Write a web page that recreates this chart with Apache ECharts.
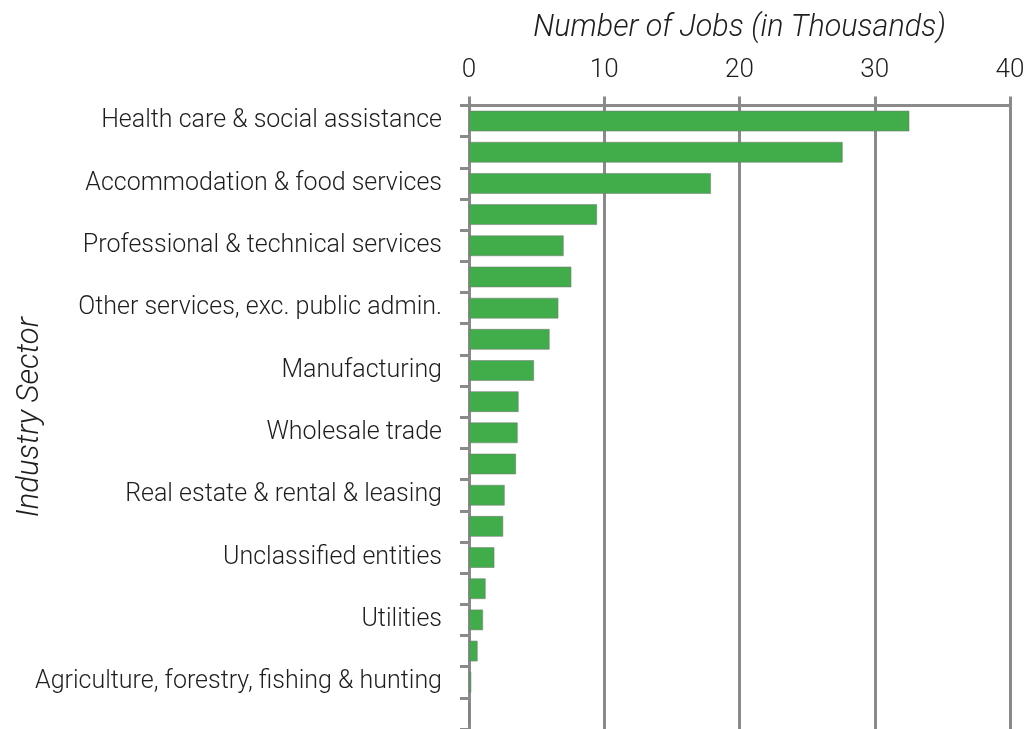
<!DOCTYPE html>
<html>
<head>
<meta charset="utf-8">
<script src="https://cdn.jsdelivr.net/npm/echarts@6/dist/echarts.min.js"></script>
<style>html,body{margin:0;padding:0;background:#fff}#c{width:1031px;height:729px}</style>
</head>
<body>
<div id="c"></div>
<script>
const sectors = [
  "Health care & social assistance",
  "Retail trade",
  "Accommodation & food services",
  "Administrative & support services",
  "Professional & technical services",
  "Construction",
  "Other services, exc. public admin.",
  "Educational services",
  "Manufacturing",
  "Transportation & warehousing",
  "Wholesale trade",
  "Finance & insurance",
  "Real estate & rental & leasing",
  "Arts, entertainment & recreation",
  "Unclassified entities",
  "Information",
  "Utilities",
  "Management of companies",
  "Agriculture, forestry, fishing & hunting",
  "Mining, quarrying, oil & gas"
];
const jobs = [32.57, 27.64, 17.9, 9.48, 7.01, 7.58, 6.62, 5.97, 4.82, 3.68, 3.61, 3.49, 2.65, 2.54, 1.89, 1.24, 1.05, 0.65, 0.18, 0];
const xTicks = [0, 10, 20, 30, 40];

const FONT = "Roboto";
const TXT = "#1e1e1e";
const LINE = "#8a8a8a";

const chart = echarts.init(document.getElementById('c'), null, {renderer: 'canvas'});
chart.setOption({
  animation: false,
  grid: {left: 469, right: 21, top: 105.5, bottom: 0, containLabel: false, outerBoundsMode: 'none'},
  xAxis: {
    type: 'value', position: 'top',
    min: xTicks[0], max: xTicks[xTicks.length - 1], interval: 10,
    name: 'Number of Jobs (in Thousands)', nameLocation: 'middle', nameGap: 62,
    nameTextStyle: {fontFamily: FONT, fontWeight: 300, fontStyle: 'italic', fontSize: 30.5, color: TXT},
    axisLine: {show: true, lineStyle: {color: LINE, width: 3}},
    axisTick: {show: true, length: 9, lineStyle: {color: LINE, width: 3}},
    axisLabel: {fontFamily: FONT, fontWeight: 300, fontSize: 26, color: TXT, margin: 22},
    splitLine: {show: true, lineStyle: {color: LINE, width: 3}}
  },
  yAxis: {
    type: 'category', data: sectors, inverse: true,
    name: 'Industry Sector', nameLocation: 'middle', nameGap: 423, nameMoveOverlap: false,
    nameTextStyle: {fontFamily: FONT, fontWeight: 300, fontStyle: 'italic', fontSize: 31, color: TXT},
    axisLine: {show: true, lineStyle: {color: LINE, width: 3}},
    axisTick: {show: true, interval: 0, length: 9, lineStyle: {color: LINE, width: 3}},
    axisLabel: {interval: 1, fontFamily: FONT, fontWeight: 300, fontSize: 25, color: TXT, margin: 27},
    splitLine: {show: false}
  },
  series: [{
    type: 'bar', data: jobs, barWidth: 21,
    itemStyle: {color: '#41ad4a', borderColor: 'rgba(120,120,120,0.55)', borderWidth: 1},
    silent: true
  }]
});
</script>
</body>
</html>
